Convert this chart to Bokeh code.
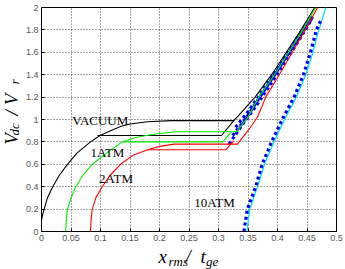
import math
from bokeh.plotting import figure
from bokeh.layouts import row, column
from bokeh.models import Range1d, FixedTicker, Label
from bokeh.embed import file_html
from bokeh.resources import INLINE

# ---------------- data ----------------
x_ticks = [0, 0.05, 0.1, 0.15, 0.2, 0.25, 0.3, 0.35, 0.4, 0.45, 0.5]
x_tick_labels = ["0", "0.05", "0.1", "0.15", "0.2", "0.25", "0.3", "0.35", "0.4", "0.45", "0.5"]
y_ticks = [0, 0.2, 0.4, 0.6, 0.8, 1.0, 1.2, 1.4, 1.6, 1.8, 2.0]
y_tick_labels = ["0", "0.2", "0.4", "0.6", "0.8", "1", "1.2", "1.4", "1.6", "1.8", "2"]

# VACUUM (black)
vac_x = [0, 0.002, 0.0045, 0.01, 0.019, 0.03, 0.044, 0.06, 0.083, 0.1, 0.117, 0.135, 0.15, 0.18, 0.22, 0.326,
         0.34, 0.362, 0.39, 0.415, 0.44, 0.463]
vac_y = [0.1, 0.15, 0.2, 0.3, 0.4, 0.5, 0.6, 0.7, 0.8, 0.86, 0.9, 0.94, 0.96, 0.98, 0.99, 0.99,
         1.07, 1.2, 1.4, 1.6, 1.8, 2.0]
vac_low_x = [0.095, 0.305, 0.326]
vac_low_y = [0.857, 0.857, 0.99]

# 1ATM (green)
atm1_x = [0.041, 0.042, 0.044, 0.05, 0.058, 0.07, 0.086, 0.11, 0.137, 0.16, 0.18, 0.2, 0.23, 0.33,
          0.35, 0.368, 0.395, 0.419, 0.443, 0.465]
atm1_y = [0, 0.1, 0.2, 0.3, 0.4, 0.5, 0.6, 0.7, 0.8, 0.84, 0.86, 0.875, 0.89, 0.89,
          1.02, 1.2, 1.4, 1.6, 1.8, 2.0]
atm1_low_x = [0.137, 0.307, 0.322]
atm1_low_y = [0.80, 0.80, 0.89]

# 2ATM (red)
atm2_x = [0.083, 0.084, 0.086, 0.092, 0.103, 0.116, 0.134, 0.155, 0.18, 0.2, 0.225, 0.332,
          0.35, 0.366, 0.38, 0.403, 0.425, 0.447, 0.468]
atm2_y = [0, 0.1, 0.2, 0.3, 0.4, 0.5, 0.6, 0.68, 0.73, 0.76, 0.78, 0.78,
          0.9, 1.02, 1.2, 1.4, 1.6, 1.8, 2.0]
atm2_low_x = [0.18, 0.3125, 0.326]
atm2_low_y = [0.73, 0.73, 0.81]

# blue dotted curves (measured)
b1_x = [0.318, 0.34, 0.365, 0.39, 0.415, 0.44, 0.456]
b1_y = [0.78, 0.95, 1.13, 1.33, 1.53, 1.74, 1.88]
b2_x = [0.324, 0.345, 0.37, 0.395, 0.42, 0.444, 0.458]
b2_y = [0.857, 1.0, 1.2, 1.4, 1.6, 1.8, 1.9]
b3_x = [0.329, 0.35, 0.374, 0.4, 0.424, 0.446, 0.46]
b3_y = [0.93, 1.07, 1.25, 1.45, 1.65, 1.83, 1.92]

# 10ATM
atm10_dot_x = [0.343, 0.349, 0.363, 0.374, 0.39, 0.408, 0.428, 0.444, 0.456, 0.466, 0.473]
atm10_dot_y = [0, 0.2, 0.4, 0.6, 0.8, 1.0, 1.2, 1.4, 1.6, 1.8, 1.88]
atm10_x = [0.348, 0.353, 0.366, 0.378, 0.394, 0.412, 0.432, 0.448, 0.46, 0.47, 0.476, 0.482]
atm10_y = [0, 0.2, 0.4, 0.6, 0.8, 1.0, 1.2, 1.4, 1.6, 1.8, 1.9, 2.0]

curve_labels = ["VACUUM", "1ATM", "2ATM", "10ATM"]
curve_label_x = [0.052, 0.083, 0.0975, 0.259]
curve_label_y = [0.99, 0.707, 0.47, 0.261]

# axis title pieces: (text, is_subscript)
y_title = [("V", False), ("dc", True), ("/", False), ("V", False), ("r", True)]
x_title = [("x", False), ("rms", True), ("/", False), ("t", False), ("ge", True)]

# ---------------- main figure ----------------
p = figure(width=323, height=245, output_backend="svg", toolbar_location=None, title=None,
           x_range=Range1d(0, 0.5), y_range=Range1d(0, 2),
           min_border_left=18, min_border_right=9, min_border_top=7, min_border_bottom=14)
p.background_fill_color = "white"
p.border_fill_color = "white"
p.outline_line_color = "black"
p.outline_line_width = 1

for ax, ticks, labels in ((p.xaxis[0], x_ticks, x_tick_labels), (p.yaxis[0], y_ticks, y_tick_labels)):
    ax.ticker = FixedTicker(ticks=ticks)
    ax.major_label_overrides = dict(zip(ticks, labels))
    ax.minor_tick_line_color = None
    ax.major_tick_in = 3
    ax.major_tick_out = 0
    ax.axis_line_color = "black"
    ax.major_tick_line_color = "black"
    ax.major_label_text_font = "Liberation Sans Narrow, Arial Narrow, Liberation Sans, sans-serif"
    ax.major_label_text_font_size = "9px"
    ax.major_label_text_color = "#555555"
    ax.major_label_standoff = 3

p.xgrid.grid_line_color = "#333333"
p.ygrid.grid_line_color = "#333333"
p.xgrid.grid_line_dash = "1 2"
p.ygrid.grid_line_dash = "1 2"
p.xgrid.grid_line_alpha = 0.9
p.ygrid.grid_line_alpha = 0.9

p.line(atm10_x, atm10_y, line_color="#00e5ff", line_width=1.3)
for bx, by in ((b1_x, b1_y), (b2_x, b2_y), (b3_x, b3_y), (atm10_dot_x, atm10_dot_y)):
    p.line(bx, by, line_color="#0000ee", line_width=3.2, line_dash="3 3")

p.line(vac_x, vac_y, line_color="black", line_width=1.1)
p.line(vac_low_x, vac_low_y, line_color="black", line_width=1.1)
p.line(atm1_x, atm1_y, line_color="#00ee00", line_width=1.1)
p.line(atm1_low_x, atm1_low_y, line_color="#00ee00", line_width=1.1)
p.line(atm2_x, atm2_y, line_color="#ff0000", line_width=1.1)
p.line(atm2_low_x, atm2_low_y, line_color="#ff0000", line_width=1.1)

for t, lx, ly in zip(curve_labels, curve_label_x, curve_label_y):
    p.add_layout(Label(x=lx, y=ly, text=t, text_font="Liberation Serif", text_font_size="13px",
                       text_color="black", text_baseline="alphabetic", text_align="left"))

serif = "Liberation Serif"


def blank_fig(w, h):
    f = figure(width=w, height=h, output_backend="svg", toolbar_location=None, title=None,
               x_range=Range1d(0, w), y_range=Range1d(0, h),
               x_axis_type=None, y_axis_type=None, min_border=0)
    f.outline_line_color = None
    f.background_fill_color = "white"
    f.border_fill_color = "white"
    f.xgrid.visible = False
    f.ygrid.visible = False
    return f


# ---------------- y title (rotated, reads bottom to top) ----------------
yt = blank_fig(22, 245)
y_starts = [150, 140, 118, 107, 84]
for (t, sub), s in zip(y_title, y_starts):
    yt.add_layout(Label(x=14.3 if sub else 10.7, y=245 - s, text=t, angle=math.pi / 2,
                        text_font=serif, text_font_style="italic",
                        text_font_size="13px" if sub else "19px", text_color="black",
                        text_baseline="alphabetic", text_align="left"))

# ---------------- x title ----------------
xt = blank_fig(345, 24)
x_starts = [158, 168, 185, 200, 205.5]
for (t, sub), s in zip(x_title, x_starts):
    xt.add_layout(Label(x=s, y=7.7 if sub else 13.3, text=t,
                        text_font=serif, text_font_style="italic",
                        text_font_size="13px" if sub else "19px", text_color="black",
                        text_baseline="alphabetic", text_align="left"))

layout = column(row(yt, p, spacing=0), xt, spacing=0)
open("out.html", "w").write(file_html(layout, INLINE))
